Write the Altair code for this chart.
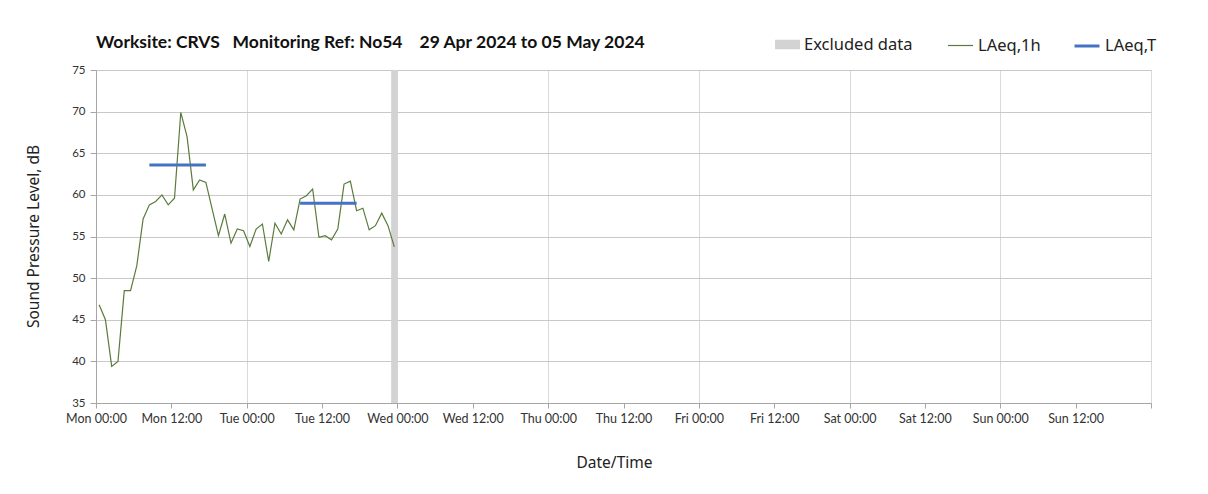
import altair as alt
import pandas as pd

# ---- data ----
hours = [h + 0.5 for h in range(48)]          # hourly LAeq,1h centred on half hours (hours since Mon 00:00)
laeq_1h = [46.8, 45.0, 39.4, 40.0, 48.5, 48.5, 51.5, 57.1, 58.8, 59.2,
           60.0, 58.8, 59.6, 69.9, 67.0, 60.6, 61.8, 61.5, 58.3, 55.1,
           57.7, 54.2, 55.9, 55.7, 53.8, 55.9, 56.5, 52.0, 56.6, 55.3,
           57.0, 55.8, 59.5, 59.9, 60.7, 54.9, 55.1, 54.6, 55.9, 61.3,
           61.65, 58.1, 58.4, 55.8, 56.3, 57.8, 56.3, 53.75]
period_start = [8.5, 32.5]
period_end = [17.5, 41.5]
laeq_t = [63.6, 59.0]
excl_start = [47.0]
excl_end = [48.0]
x_ticks = list(range(0, 169, 12))
y_ticks = list(range(35, 76, 5))

df_line = pd.DataFrame({"hour": hours, "level": laeq_1h, "series": ["LAeq,1h"] * len(hours)})
df_t = pd.DataFrame({"start": period_start, "end": period_end, "level": laeq_t,
                     "series": ["LAeq,T"] * len(laeq_t)})
df_ex = pd.DataFrame({"start": excl_start, "end": excl_end, "series": ["Excluded data"] * len(excl_start)})

LABEL_FONT = "Lato"
TEXT_FONT = "Noto Sans"

x_scale = alt.Scale(domain=[0, 168], nice=False, zero=False)
y_scale = alt.Scale(domain=[35, 75], nice=False, zero=False)

x_axis = alt.Axis(
    values=x_ticks,
    labelExpr="datum.value >= 168 ? '' : ['Mon','Tue','Wed','Thu','Fri','Sat','Sun'][floor(datum.value/24)] + (datum.value % 24 == 0 ? ' 00:00' : ' 12:00')",
    title="Date/Time",
    grid=True,
    gridColor="#d9d9d9",
    gridWidth=1,
    gridOpacity={"condition": {"test": "datum.value % 24 == 0", "value": 1}, "value": 0},
    domainColor="#a6a6a6",
    tickColor="#a6a6a6",
    tickSize=5,
    labelFont=LABEL_FONT,
    labelFontSize=12.5,
    labelColor="#333333",
    labelPadding=4,
    labelOverlap=False,
    labelFlush=False,
    titleFont=TEXT_FONT,
    titleFontSize=15.5,
    titleFontWeight="normal",
    titleColor="#222222",
    titleX=518,
    titleY=64,
    titleBaseline="alphabetic",
    titleAlign="center",
)

y_axis = alt.Axis(
    values=y_ticks,
    title="Sound Pressure Level, dB",
    grid=True,
    gridColor="#c8c8c8",
    gridWidth=1.2,
    domainColor="#a6a6a6",
    tickColor="#a6a6a6",
    tickSize=6,
    labelFont=LABEL_FONT,
    labelFontSize=11.5,
    labelColor="#333333",
    labelPadding=5,
    labelFlush=False,
    titleFont=TEXT_FONT,
    titleFontSize=15.5,
    titleFontWeight="normal",
    titleColor="#222222",
    titleAngle=-90,
    titleX=-58,
    titleY=166,
    titleAlign="center",
    titleBaseline="alphabetic",
)

legend_common = dict(orient="none", direction="horizontal", title=None, padding=0,
                     labelFont=TEXT_FONT, labelFontSize=16.5, labelColor="#222222",
                     labelOffset=4, symbolSize=625)

excluded = alt.Chart(df_ex).mark_rect(opacity=1).encode(
    x=alt.X("start:Q", scale=x_scale, axis=x_axis),
    x2="end:Q",
    fill=alt.Fill("series:N",
                  scale=alt.Scale(domain=["Excluded data"], range=["#d3d3d3"]),
                  legend=alt.Legend(symbolType="M-1,-0.38H1V0.38H-1Z", symbolStrokeWidth=0,
                                    legendX=679, legendY=-38, **legend_common)),
)

line = alt.Chart(df_line).mark_line(strokeWidth=1.2).encode(
    x=alt.X("hour:Q", scale=x_scale, axis=x_axis),
    y=alt.Y("level:Q", scale=y_scale, axis=y_axis),
    color=alt.Color("series:N",
                    scale=alt.Scale(domain=["LAeq,1h"], range=["#5b7b3c"]),
                    legend=alt.Legend(symbolType="stroke", symbolStrokeWidth=1.2,
                                      legendX=851, legendY=-38, **legend_common)),
)

periods = alt.Chart(df_t).mark_rule(strokeWidth=3).encode(
    x=alt.X("start:Q", scale=x_scale, axis=x_axis),
    x2="end:Q",
    y=alt.Y("level:Q", scale=y_scale, axis=y_axis),
    stroke=alt.Stroke("series:N",
                      scale=alt.Scale(domain=["LAeq,T"], range=["#4472c4"]),
                      legend=alt.Legend(symbolType="stroke", symbolStrokeWidth=3,
                                        legendX=977, legendY=-38, **legend_common)),
)

title_text = "Worksite: CRVS\u00a0\u00a0\u00a0Monitoring Ref: No54\u00a0\u00a0\u00a0\u00a029 Apr 2024 to 05 May 2024"

chart = alt.layer(excluded, line, periods).properties(
    width=1055,
    height=333,
    autosize=alt.AutoSizeParams(type="none"),
    padding={"left": 88, "top": 62, "right": 49, "bottom": 83},
    title=alt.TitleParams(title_text, anchor="start", frame="group", orient="top",
                          font=LABEL_FONT, fontSize=17.5, fontWeight="bold", color="#111111",
                          baseline="alphabetic", offset=-33),
).configure_view(stroke=None).configure(background="white")

chart.save("out.html", embed_options={"renderer": "svg", "actions": False})
